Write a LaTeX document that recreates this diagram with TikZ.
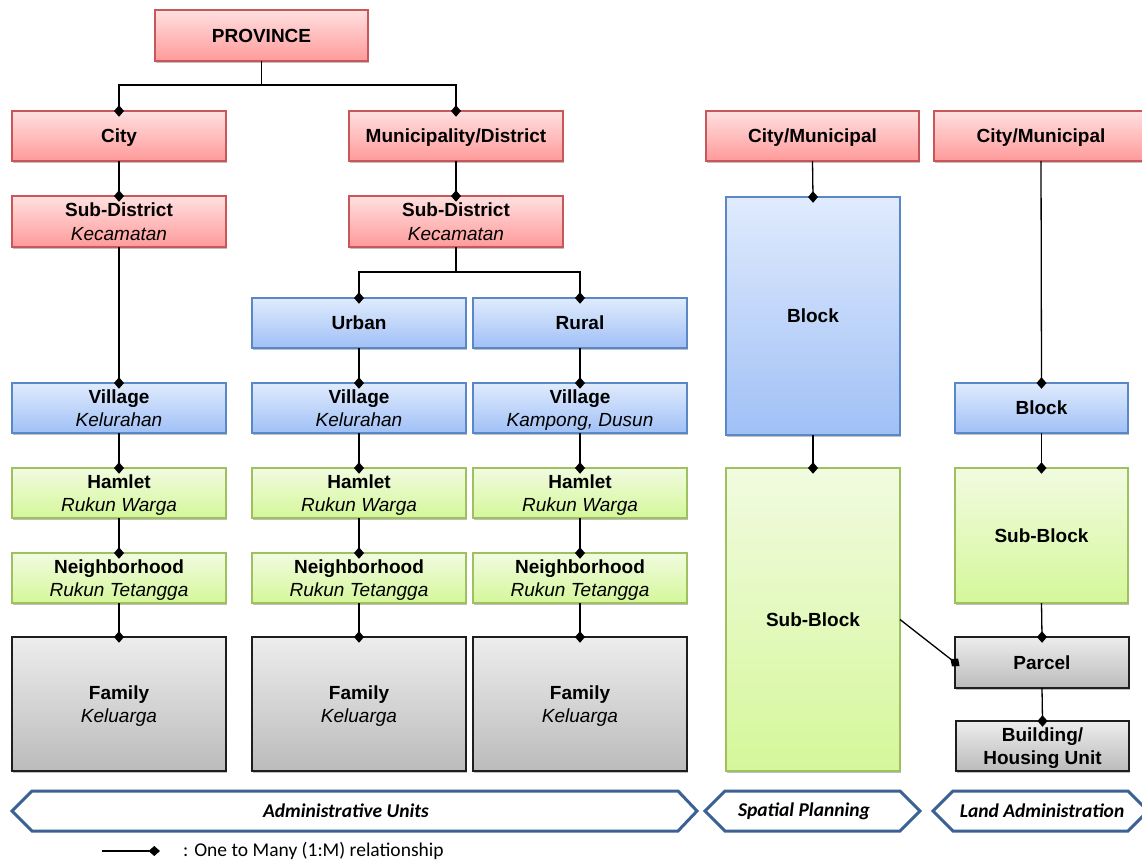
\documentclass[tikz,border=0pt]{standalone}
\usepackage{fontspec}
\setmainfont{Liberation Sans}
\newfontfamily\calib{Carlito}
\usetikzlibrary{arrows.meta,shadows,calc}
\definecolor{redtop}{HTML}{FFE0E0}
\definecolor{redbot}{HTML}{FF9A9A}
\definecolor{redbd}{HTML}{C9575A}
\definecolor{bluetop}{HTML}{E0EBFD}
\definecolor{bluebot}{HTML}{A0C0F6}
\definecolor{bluebd}{HTML}{5A88C6}
\definecolor{grntop}{HTML}{F1FBE0}
\definecolor{grnbot}{HTML}{D5F79A}
\definecolor{grnbd}{HTML}{9FC05E}
\definecolor{gratop}{HTML}{EDEDED}
\definecolor{grabot}{HTML}{BBBBBB}
\definecolor{grabd}{HTML}{1E1E1E}
\definecolor{banbd}{HTML}{3C6194}
\newcommand\mystrut{\rule[-5pt]{0pt}{23.5pt}}
\newcommand\onel[1]{\textbf{#1}\mystrut}
\newcommand\twol[2]{\textbf{#1}\mystrut\\\textit{#2}\mystrut}
\newcommand\mkbox[7]{\node[#1, minimum width={(#5-#3)*1pt}, minimum height={(#6-#4)*1pt}] (#2) at ({(#3+#5)/2},{(#4+#6)/2}) {#7};}
\begin{document}
\begin{tikzpicture}[x=1pt,y=-1pt,
  basebox/.style={rectangle, inner sep=0pt, outer sep=0pt, line width=1.3pt, align=center,
    font=\fontsize{19}{23.5}\selectfont,
    drop shadow={shadow xshift=1.2pt, shadow yshift=-1.6pt, fill=black, opacity=0.25}},
  redbox/.style={basebox, draw=redbd, top color=redtop, bottom color=redbot},
  bluebox/.style={basebox, draw=bluebd, top color=bluetop, bottom color=bluebot},
  grnbox/.style={basebox, draw=grnbd, top color=grntop, bottom color=grnbot},
  grabox/.style={basebox, draw=grabd, top color=gratop, bottom color=grabot},
  rel/.style={draw=black, line width=1.3pt, -{Diamond[length=11.5pt,width=10pt]}, shorten >=-5.75pt},
  plain/.style={draw=black, line width=1.3pt},
  banner/.style={draw=banbd, line width=3pt, fill=white, line join=miter},
  bantext/.style={font=\calib\bfseries\itshape\fontsize{19.5}{22}\selectfont},
]
\clip (0,0) rectangle (1142,863);
\fill[white] (0,0) rectangle (1142,863);

% Administrative units
\mkbox{redbox}{prov}{155}{10}{368}{61}{\onel{PROVINCE}}
\mkbox{redbox}{city}{12}{111}{226}{161}{\onel{City}}
\mkbox{redbox}{muni}{349}{111}{563}{161}{\onel{Municipality/District}}
\mkbox{redbox}{sdl}{12}{196}{226}{247}{\twol{Sub-District}{Kecamatan}}
\mkbox{redbox}{sdr}{349}{196}{563}{247}{\twol{Sub-District}{Kecamatan}}
\mkbox{bluebox}{urban}{252}{298}{466}{348}{\onel{Urban}}
\mkbox{bluebox}{rural}{473}{298}{687}{348}{\onel{Rural}}

\mkbox{bluebox}{vil1}{12}{383}{226}{433}{\twol{Village}{Kelurahan}}
\mkbox{bluebox}{vil2}{252}{383}{466}{433}{\twol{Village}{Kelurahan}}
\mkbox{bluebox}{vil3}{473}{383}{687}{433}{\twol{Village}{Kampong, Dusun}}

\mkbox{grnbox}{ham1}{12}{468}{226}{518}{\twol{Hamlet}{Rukun Warga}}
\mkbox{grnbox}{ham2}{252}{468}{466}{518}{\twol{Hamlet}{Rukun Warga}}
\mkbox{grnbox}{ham3}{473}{468}{687}{518}{\twol{Hamlet}{Rukun Warga}}

\mkbox{grnbox}{nb1}{12}{553}{226}{603}{\twol{Neighborhood}{Rukun Tetangga}}
\mkbox{grnbox}{nb2}{252}{553}{466}{603}{\twol{Neighborhood}{Rukun Tetangga}}
\mkbox{grnbox}{nb3}{473}{553}{687}{603}{\twol{Neighborhood}{Rukun Tetangga}}

\mkbox{grabox}{fam1}{12}{637}{226}{771}{\twol{Family}{Keluarga}}
\mkbox{grabox}{fam2}{252}{637}{466}{771}{\twol{Family}{Keluarga}}
\mkbox{grabox}{fam3}{473}{637}{687}{771}{\twol{Family}{Keluarga}}

% Spatial planning
\mkbox{redbox}{spcity}{706}{111}{919}{161}{\onel{City/Municipal}}
\mkbox{bluebox}{spblock}{726}{197}{900}{435}{\onel{Block}}
\mkbox{grnbox}{spsub}{726}{468}{900}{771}{\onel{Sub-Block}}

% Land administration
\mkbox{redbox}{lacity}{934}{111}{1148}{161}{\onel{City/Municipal}}
\mkbox{bluebox}{lablock}{955}{383}{1128}{433}{\onel{Block}}
\mkbox{grnbox}{lasub}{955}{468}{1128}{603}{\onel{Sub-Block}}
\mkbox{grabox}{parcel}{955}{637}{1129}{688}{\onel{Parcel}}
\mkbox{grabox}{bldg}{956}{721}{1129}{771}{\textbf{Building/}\mystrut\\\textbf{Housing Unit}\mystrut}

% connectors
\coordinate (pj) at ($(prov.south)+(0,24)$);
\draw[plain] (prov.south) -- (pj);
\draw[rel] (pj) -| (city.north);
\draw[rel] (pj) -| (muni.north);
\draw[rel] (city.south) -- (sdl.north);
\draw[rel] (muni.south) -- (sdr.north);
\draw[rel] (sdl.south) -- (vil1.north);
\coordinate (sj) at ($(sdr.south)+(0,25)$);
\draw[plain] (sdr.south) -- (sj);
\draw[rel] (sj) -| (urban.north);
\draw[rel] (sj) -| (rural.north);
\draw[rel] (urban.south) -- (vil2.north);
\draw[rel] (rural.south) -- (vil3.north);
\draw[rel] (vil1.south) -- (ham1.north);
\draw[rel] (vil2.south) -- (ham2.north);
\draw[rel] (vil3.south) -- (ham3.north);
\draw[rel] (ham1.south) -- (nb1.north);
\draw[rel] (ham2.south) -- (nb2.north);
\draw[rel] (ham3.south) -- (nb3.north);
\draw[rel] (nb1.south) -- (fam1.north);
\draw[rel] (nb2.south) -- (fam2.north);
\draw[rel] (nb3.south) -- (fam3.north);

\draw[rel] (spcity.south) -- (spblock.north);
\draw[rel] (spblock.south) -- (spsub.north);
\draw[rel] (lacity.south) -- (lablock.north);
\draw[rel] (lablock.south) -- (lasub.north);
\draw[rel] (lasub.south) -- (parcel.north);
\draw[rel] (parcel.south) -- (bldg.north);
\draw[rel] (spsub.east) -- (parcel.west);

% banners
\draw[banner] (12,811) -- (32,791) -- (678,791) -- (697,811) -- (678,831) -- (32,831) -- cycle;
\node[bantext] (ban1) at (346,811) {Administrative Units};
\draw[banner] (705,811) -- (725,791) -- (900,791) -- (920,811) -- (900,831) -- (725,831) -- cycle;
\node[bantext] (ban2) at (804,811) {Spatial Planning};
\draw[banner] (933,811) -- (953,791) -- (1128,791) -- (1148,811) -- (1128,831) -- (953,831) -- cycle;
\node[bantext] (ban3) at (1042,811) {Land Administration};

% legend
\coordinate (l1) at (102,851);
\coordinate (l2) at (160,851);
\draw[rel, shorten >=0pt] (l1) -- (l2);
\node[anchor=west, inner sep=0pt, font=\calib\fontsize{19.5}{22}\selectfont] (legtext) at (183,851) {: One to Many (1:M) relationship};
\end{tikzpicture}
\end{document}
